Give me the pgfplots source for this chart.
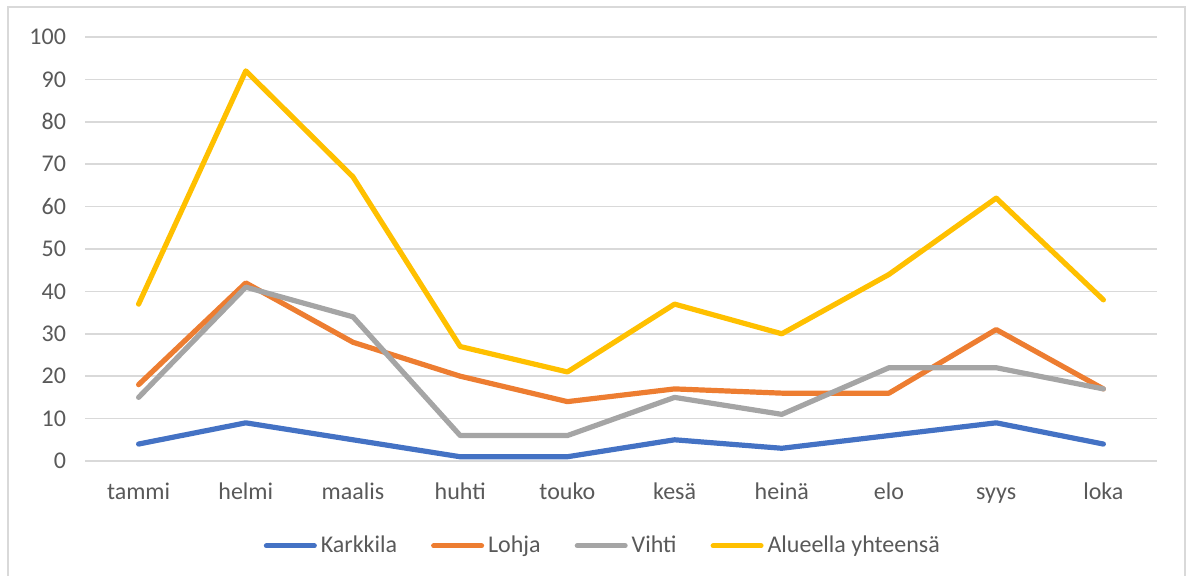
\documentclass[border=0pt]{standalone}
\usepackage{fontspec}
\setmainfont{Carlito}
\usepackage{pgfplots}
\pgfplotsset{compat=1.18}

\definecolor{cKarkkila}{HTML}{4472C4}
\definecolor{cLohja}{HTML}{ED7D31}
\definecolor{cVihti}{HTML}{A5A5A5}
\definecolor{cYht}{HTML}{FFC000}
\definecolor{gridc}{HTML}{D9D9D9}
\definecolor{txt}{HTML}{595959}

\begin{document}
\begin{tikzpicture}[x=0.5pt,y=0.5pt]
% 1 px of the reference = 0.5pt, origin at bottom-left of the image
\useasboundingbox (0,0) rectangle (1189,576);
\draw[gridc, line width=0.8pt] (8,-10) rectangle (1185,569);
\begin{axis}[
    at={(42.5pt,57.5pt)}, anchor=south west,
    width=536pt, height=212pt, scale only axis,
    xmin=-0.5, xmax=9.5,
    ymin=0, ymax=100,
    xtick={0,...,9},
    xticklabels={tammi,helmi,maalis,huhti,touko,kesä,heinä,elo,syys,loka},
    ytick={0,10,...,100},
    major tick length=0pt,
    axis line style={draw=none},
    ymajorgrids=true,
    major grid style={gridc, line width=0.8pt},
    tick label style={font=\fontsize{12}{14}\selectfont, text=txt},
    /pgf/number format/assume math mode=true,
    yticklabel style={anchor=east, xshift=-6pt},
    xticklabel style={anchor=north, yshift=-7pt, text height=8.5pt, text depth=2.5pt},
    legend style={at={(0.484,-0.2)}, anchor=center, draw=none, fill=none,
        legend columns=4, font=\fontsize{12}{14}\selectfont, text=txt,
        /tikz/every even column/.append style={column sep=15pt},
        /tikz/every odd column/.append style={column sep=0pt}},
    legend cell align=left,
    legend image code/.code={\draw[#1, line width=2.5pt, line cap=round] (0pt,0pt) -- (24pt,0pt);},
    every axis plot/.append style={line width=2.6pt, line join=round, line cap=round, mark=none},
]
\addplot[color=cKarkkila] coordinates {(0,4)(1,9)(2,5)(3,1)(4,1)(5,5)(6,3)(7,6)(8,9)(9,4)};
\addlegendentry{Karkkila}
\addplot[color=cLohja] coordinates {(0,18)(1,42)(2,28)(3,20)(4,14)(5,17)(6,16)(7,16)(8,31)(9,17)};
\addlegendentry{Lohja}
\addplot[color=cVihti] coordinates {(0,15)(1,41)(2,34)(3,6)(4,6)(5,15)(6,11)(7,22)(8,22)(9,17)};
\addlegendentry{Vihti}
\addplot[color=cYht] coordinates {(0,37)(1,92)(2,67)(3,27)(4,21)(5,37)(6,30)(7,44)(8,62)(9,38)};
\addlegendentry{Alueella yhteensä}
\end{axis}
\end{tikzpicture}
\end{document}
